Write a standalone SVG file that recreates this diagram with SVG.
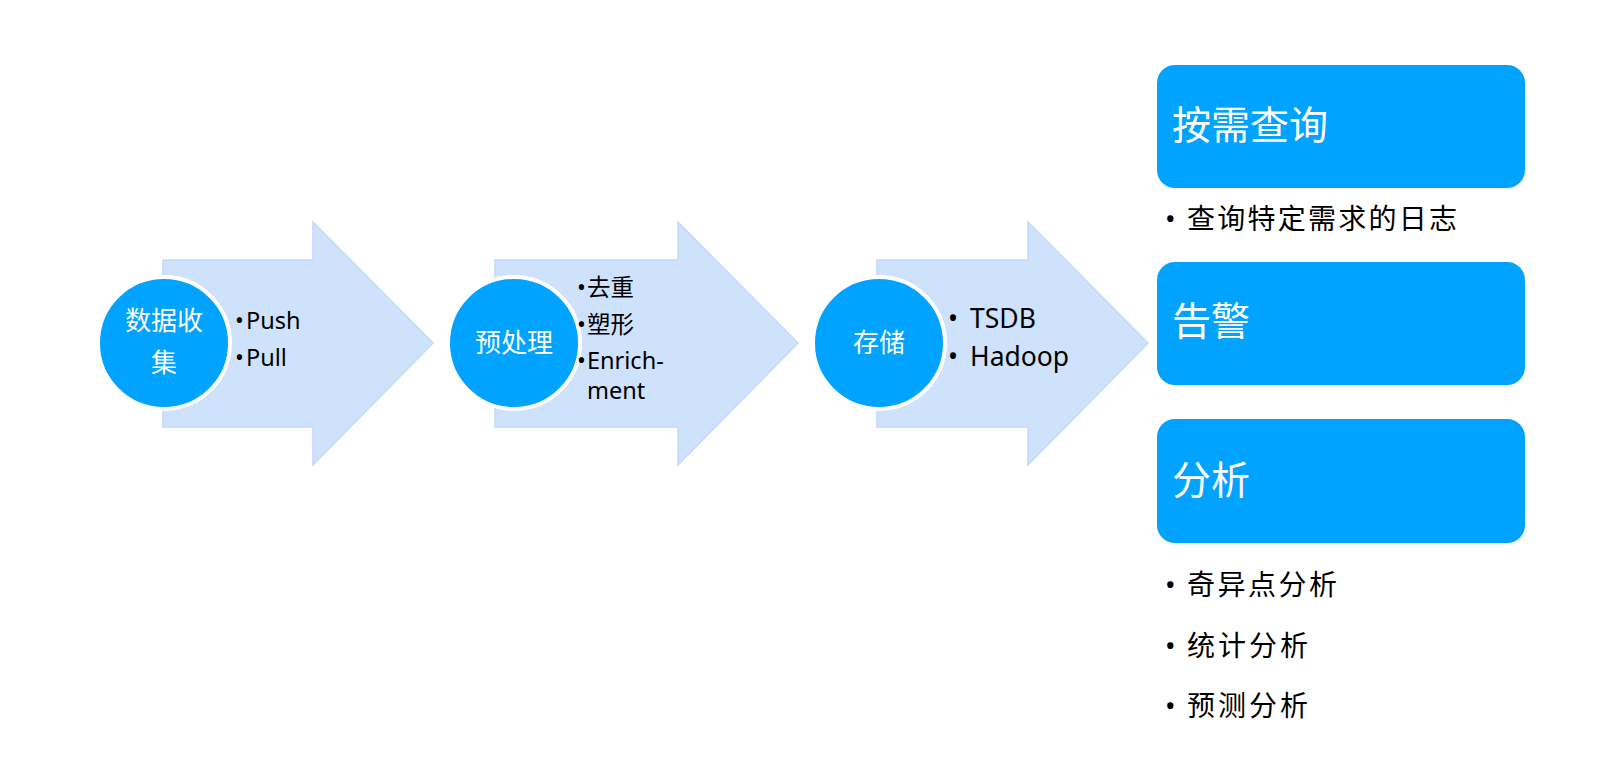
<svg xmlns="http://www.w3.org/2000/svg" width="1622" height="778" viewBox="0 0 1622 778">
<style>
.arrow{fill:#CFE2FC;stroke:#C3D9F9;stroke-width:1.5}
.circ{fill:#00A3FF;stroke:#FFFFFF;stroke-width:4}
.box{fill:#00A3FF}
.ct{font-family:"Noto Sans","Noto Sans CJK SC",sans-serif;font-size:26px;fill:#FFFFFF;text-anchor:middle}
.bt{font-family:"Noto Sans","Noto Sans CJK SC",sans-serif;font-size:39px;fill:#FFFFFF}
.b1{font-family:"Noto Sans","Noto Sans CJK SC",sans-serif;font-size:23.5px;fill:#000000}
.b3{font-family:"Noto Sans","Noto Sans CJK SC",sans-serif;font-size:26.5px;fill:#000000}
.rb{font-family:"Noto Sans","Noto Sans CJK SC",sans-serif;font-size:28px;fill:#000000}
</style>
<rect width="1622" height="778" fill="#FFFFFF"/>
<g id="connectors">
<polygon class="arrow" points="163,260 313,260 313,222 433,343 313,465 313,427 163,427"/>
<polygon class="arrow" points="495,260 678,260 678,222 798,343 678,465 678,427 495,427"/>
<polygon class="arrow" points="877,260 1028,260 1028,222 1148,343 1028,465 1028,427 877,427"/>
</g>
<g id="node-collect">
<circle class="circ" cx="164" cy="343" r="66"/>
<text class="ct" x="164" y="330">数据收</text>
<text class="ct" x="164" y="372">集</text>
<text class="b1" x="235" y="329">•</text>
<text class="b1" x="246" y="329">Push</text>
<text class="b1" x="235" y="366">•</text>
<text class="b1" x="246" y="366">Pull</text>
</g>
<g id="node-preprocess">
<circle class="circ" cx="514" cy="343" r="66"/>
<text class="ct" x="514" y="352">预处理</text>
<text class="b1" x="577" y="296">•</text>
<text class="b1" x="587" y="296">去重</text>
<text class="b1" x="577" y="333">•</text>
<text class="b1" x="587" y="333">塑形</text>
<text class="b1" x="577" y="369">•</text>
<text class="b1" x="587" y="369">Enrich-</text>
<text class="b1" x="587" y="399">ment</text>
</g>
<g id="node-storage">
<circle class="circ" cx="879" cy="343" r="66"/>
<text class="ct" x="879" y="352">存储</text>
<text class="b3" x="948" y="328">•</text>
<text class="b3" x="970" y="328">TSDB</text>
<text class="b3" x="948" y="366">•</text>
<text class="b3" x="970" y="366">Hadoop</text>
</g>
<g id="node-query">
<rect class="box" x="1157" y="65" width="368" height="123" rx="18"/>
<text class="bt" x="1172" y="139">按需查询</text>
<text class="rb" x="1165" y="229">•</text>
<text class="rb" x="1187" y="229" textLength="270" lengthAdjust="spacing">查询特定需求的日志</text>
</g>
<g id="node-alert">
<rect class="box" x="1157" y="262" width="368" height="123" rx="18"/>
<text class="bt" x="1172" y="335">告警</text>
</g>
<g id="node-analysis">
<rect class="box" x="1157" y="419" width="368" height="124" rx="18"/>
<text class="bt" x="1172" y="494">分析</text>
<text class="rb" x="1165" y="595">•</text>
<text class="rb" x="1187" y="595" textLength="150" lengthAdjust="spacing">奇异点分析</text>
<text class="rb" x="1165" y="656">•</text>
<text class="rb" x="1187" y="656" textLength="121" lengthAdjust="spacing">统计分析</text>
<text class="rb" x="1165" y="716">•</text>
<text class="rb" x="1187" y="716" textLength="121" lengthAdjust="spacing">预测分析</text>
</g>
</svg>
